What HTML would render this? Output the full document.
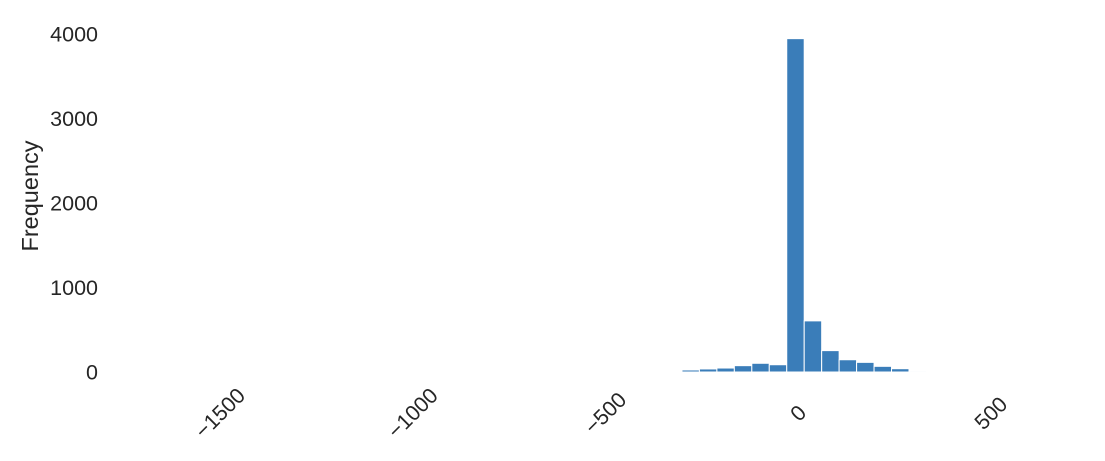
<!DOCTYPE html>
<html><head><meta charset="utf-8"><style>
body{margin:0;background:#fff;}
svg{display:block;font-family:"Liberation Sans",sans-serif;}
</style></head><body>
<svg id="chart" width="1105" height="461">
<g id="bars"></g>
<g id="yticks"></g>
<g id="xticks"></g>
<text x="38" y="196" transform="rotate(-90 38 196)" text-anchor="middle" font-size="23.5" fill="#262626">Frequency</text>
</svg>
<script>
const binStart = -1660;
const binWidth = 45.3;
const counts = [1,0,0,0,0,0,0,0,0,0,0,0,0,0,0,0,0,0,0,0,0,0,0,0,0,1,1,1,3,10,24,36,47,75,103,86,3945,605,253,145,114,67,39,12,5,2,1,2,1,1];
const yTicks = [0,1000,2000,3000,4000];
const xTicks = [-1500,-1000,-500,0,500];
const xs = v => 798 + v*0.3855;
const ys = v => 372 - v*0.0845;
const NS = "http://www.w3.org/2000/svg";
const bars = document.getElementById('bars');
counts.forEach((c,i)=>{
  const x0 = xs(binStart + i*binWidth), x1 = xs(binStart + (i+1)*binWidth);
  const r = document.createElementNS(NS,'rect');
  r.setAttribute('x', x0); r.setAttribute('width', x1-x0);
  r.setAttribute('y', ys(c)); r.setAttribute('height', Math.max(0, 372-ys(c)));
  r.setAttribute('fill','#3a7db9'); r.setAttribute('stroke','#fff'); r.setAttribute('stroke-width','1');
  
  
  bars.appendChild(r);
});
const yg = document.getElementById('yticks');
yTicks.forEach(t=>{
  const e = document.createElementNS(NS,'text');
  e.setAttribute('x', 98); e.setAttribute('y', ys(t)+7.5);
  e.setAttribute('text-anchor','end'); e.setAttribute('font-size','21.5'); e.setAttribute('fill','#262626');
  e.textContent = t;
  
  
  yg.appendChild(e);
});
const xg = document.getElementById('xticks');
xTicks.forEach(t=>{
  const e = document.createElementNS(NS,'text');
  const cx = xs(t), cy = 413;
  e.setAttribute('x', cx); e.setAttribute('y', cy+7.5);
  e.setAttribute('text-anchor','middle'); e.setAttribute('font-size','21.5'); e.setAttribute('fill','#262626');
  e.setAttribute('transform', `rotate(-45 ${cx} ${cy})`);
  e.textContent = t < 0 ? '\u2212' + Math.abs(t) : t;
  
  
  xg.appendChild(e);
});
</script>
</body></html>
